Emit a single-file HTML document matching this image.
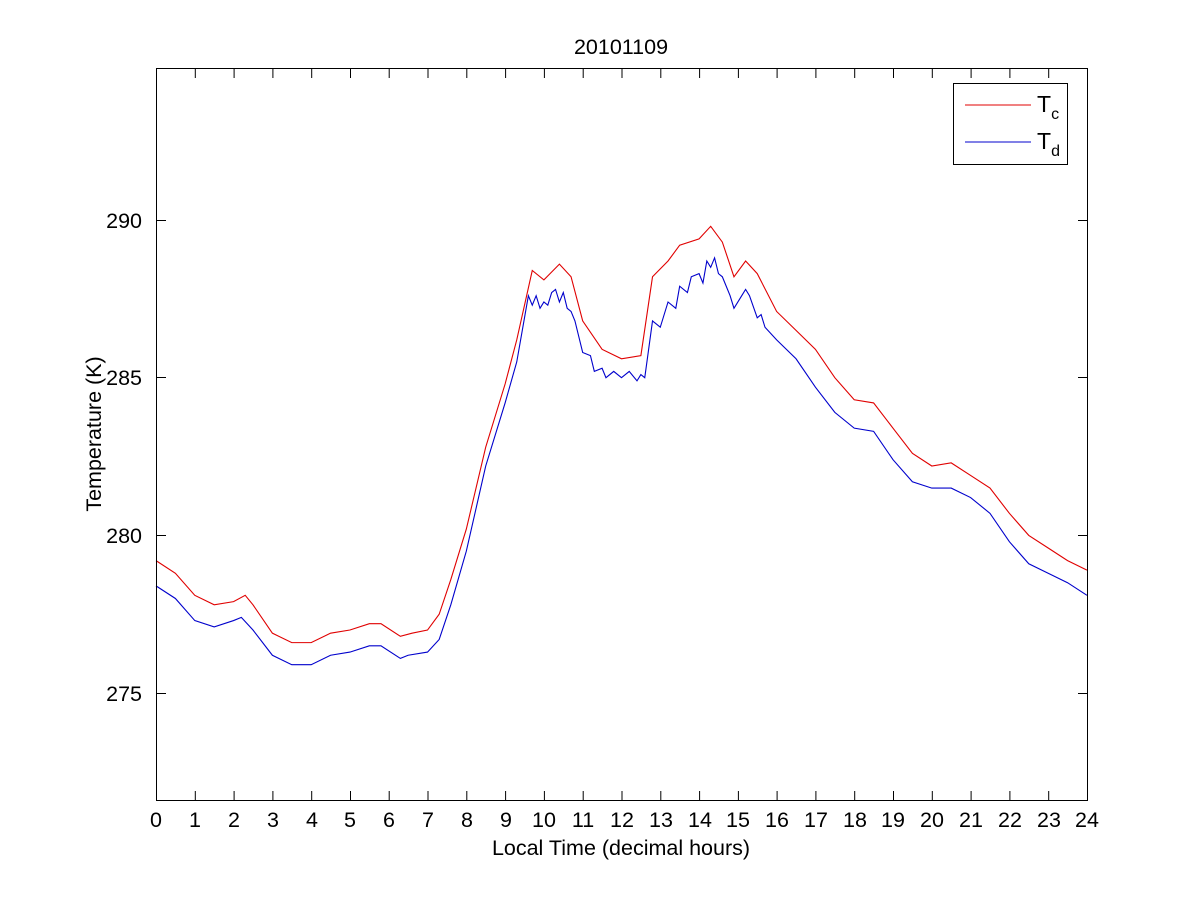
<!DOCTYPE html>
<html><head><meta charset="utf-8"><style>body{margin:0;background:#fff}svg{display:block}text{font-family:"Liberation Sans",Arial,sans-serif;font-size:21.5px;fill:#000}</style></head><body>
<svg width="1201" height="900" viewBox="0 0 1201 900">
<rect width="1201" height="900" fill="#fff"/>
<g transform="matrix(38.79,0,0,-31.54,156,9366.6)" fill="none" stroke-width="1.1">
<polyline vector-effect="non-scaling-stroke" stroke="#e00000" points="0,279.2 0.5,278.8 1,278.1 1.5,277.8 2,277.9 2.3,278.1 2.5,277.8 3,276.9 3.5,276.6 4,276.6 4.5,276.9 5,277.0 5.5,277.2 5.8,277.2 6.3,276.8 6.6,276.9 7,277.0 7.3,277.5 7.6,278.6 8,280.2 8.5,282.8 9,284.8 9.3,286.2 9.7,288.4 10,288.1 10.4,288.6 10.7,288.2 11,286.8 11.5,285.9 12,285.6 12.5,285.7 12.8,288.2 13.2,288.7 13.5,289.2 14,289.4 14.3,289.8 14.6,289.3 14.9,288.2 15.2,288.7 15.5,288.3 16,287.1 16.5,286.5 17,285.9 17.5,285.0 18,284.3 18.5,284.2 19,283.4 19.5,282.6 20,282.2 20.5,282.3 21,281.9 21.5,281.5 22,280.7 22.5,280.0 23,279.6 23.5,279.2 24,278.9"/>
<polyline vector-effect="non-scaling-stroke" stroke="#0000cc" points="0,278.4 0.5,278.0 1,277.3 1.5,277.1 2,277.3 2.2,277.4 2.5,277.0 3,276.2 3.5,275.9 4,275.9 4.5,276.2 5,276.3 5.5,276.5 5.8,276.5 6.3,276.1 6.5,276.2 7,276.3 7.3,276.7 7.6,277.8 8,279.5 8.5,282.2 9,284.2 9.3,285.5 9.5,286.9 9.6,287.6 9.7,287.3 9.8,287.6 9.9,287.2 10,287.4 10.1,287.3 10.2,287.7 10.3,287.8 10.4,287.4 10.5,287.7 10.6,287.2 10.7,287.1 10.8,286.8 11,285.8 11.2,285.7 11.3,285.2 11.5,285.3 11.6,285.0 11.8,285.2 12,285.0 12.2,285.2 12.4,284.9 12.5,285.1 12.6,285.0 12.8,286.8 13,286.6 13.2,287.4 13.4,287.2 13.5,287.9 13.7,287.7 13.8,288.2 14,288.3 14.1,288.0 14.2,288.7 14.3,288.5 14.4,288.8 14.5,288.3 14.6,288.2 14.8,287.6 14.9,287.2 15.1,287.6 15.2,287.8 15.3,287.6 15.5,286.9 15.6,287.0 15.7,286.6 16,286.2 16.5,285.6 17,284.7 17.5,283.9 18,283.4 18.5,283.3 19,282.4 19.5,281.7 20,281.5 20.5,281.5 21,281.2 21.5,280.7 22,279.8 22.5,279.1 23,278.8 23.5,278.5 24,278.1"/>
</g>
<rect x="156.5" y="68.5" width="931" height="732" fill="none" stroke="#000" stroke-width="1"/>
<g stroke="#000" stroke-width="1">
<path d="M156.5,800v-9M195.3,800v-9M234.1,800v-9M272.9,800v-9M311.7,800v-9M350.5,800v-9M389.2,800v-9M428,800v-9M466.8,800v-9M505.6,800v-9M544.4,800v-9M583.2,800v-9M622,800v-9M660.8,800v-9M699.6,800v-9M738.4,800v-9M777.1,800v-9M815.9,800v-9M854.7,800v-9M893.5,800v-9M932.3,800v-9M971.1,800v-9M1009.9,800v-9M1048.7,800v-9"/>
<path d="M195.3,69v9M234.1,69v9M272.9,69v9M311.7,69v9M350.5,69v9M389.2,69v9M428,69v9M466.8,69v9M505.6,69v9M544.4,69v9M583.2,69v9M622,69v9M660.8,69v9M699.6,69v9M738.4,69v9M777.1,69v9M815.9,69v9M854.7,69v9M893.5,69v9M932.3,69v9M971.1,69v9M1009.9,69v9M1048.7,69v9"/>
<path d="M157,220.5h9M157,377.5h9M157,535.5h9M157,693.5h9M1087,220.5h-9M1087,377.5h-9M1087,535.5h-9M1087,693.5h-9"/>
</g>
<g text-anchor="middle">
<text x="156" y="827">0</text><text x="195" y="827">1</text><text x="234" y="827">2</text><text x="273" y="827">3</text><text x="312" y="827">4</text><text x="350" y="827">5</text><text x="389" y="827">6</text><text x="428" y="827">7</text><text x="467" y="827">8</text><text x="506" y="827">9</text><text x="544" y="827">10</text><text x="583" y="827">11</text><text x="622" y="827">12</text><text x="661" y="827">13</text><text x="700" y="827">14</text><text x="738" y="827">15</text><text x="777" y="827">16</text><text x="816" y="827">17</text><text x="855" y="827">18</text><text x="893" y="827">19</text><text x="932" y="827">20</text><text x="971" y="827">21</text><text x="1010" y="827">22</text><text x="1049" y="827">23</text><text x="1087" y="827">24</text>
<text x="621" y="855">Local Time (decimal hours)</text>
<text x="621" y="54">20101109</text>
<text transform="translate(101,434) rotate(-90)">Temperature (K)</text>
</g>
<g text-anchor="end">
<text x="142" y="228">290</text><text x="142" y="385">285</text><text x="142" y="543">280</text><text x="142" y="701">275</text>
</g>
<rect x="953.5" y="83.5" width="114" height="81" fill="#fff" stroke="#000"/>
<line x1="965" y1="105" x2="1031" y2="105" stroke="#e00000"/>
<line x1="965" y1="142" x2="1031" y2="142" stroke="#0000cc"/>
<text x="1037" y="112" style="font-size:23px">T<tspan dy="7" style="font-size:16px">c</tspan></text>
<text x="1037" y="149" style="font-size:23px">T<tspan dy="7" style="font-size:16px">d</tspan></text>
</svg>
</body></html>
